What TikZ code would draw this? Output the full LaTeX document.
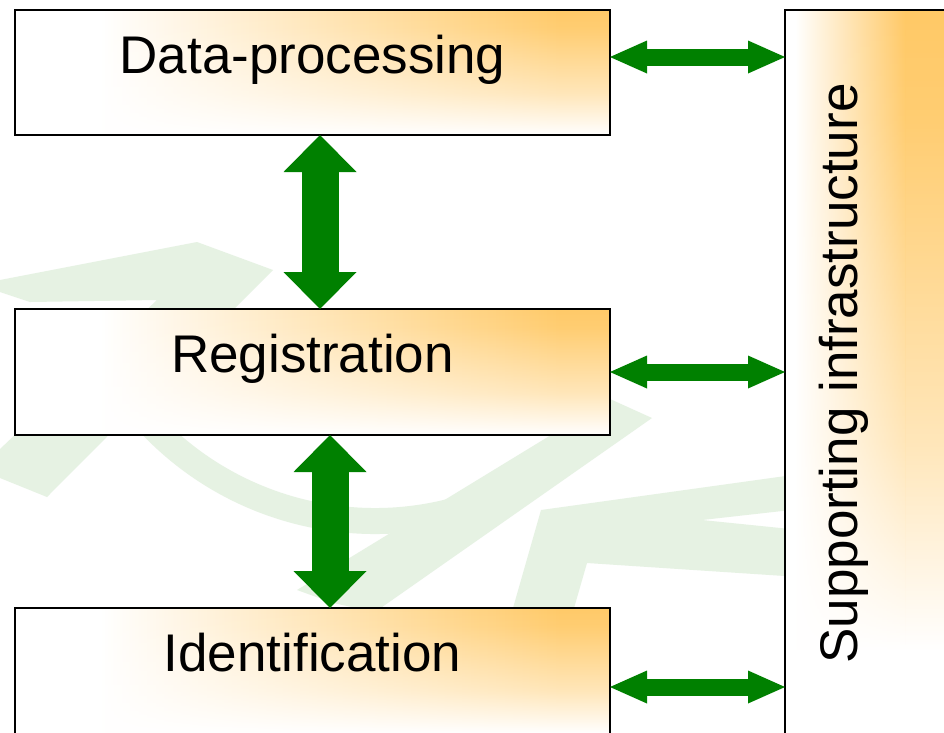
\documentclass[tikz,border=0pt]{standalone}
\usepackage{fontspec}
\setmainfont{Liberation Sans}
\usetikzlibrary{arrows.meta,fadings,calc}
\definecolor{gold}{RGB}{255,201,102}
\definecolor{arrowgreen}{RGB}{0,128,0}
\definecolor{wmark}{RGB}{230,242,227}
\pgfdeclarelayer{background}
\pgfsetlayers{background,main}
\pgfdeclareverticalshading{glowfadeshade}{100bp}{color(0bp)=(black); color(25bp)=(black); color(41bp)=(white!45!black); color(66bp)=(white!92!black); color(75bp)=(white); color(100bp)=(white)}
\pgfdeclarefading{glowfade}{\pgfuseshading{glowfadeshade}}
\newcommand{\glowin}[4]{%
  \fill[white] (#1.north west) rectangle (#1.south east);
  \begin{scope}
    \clip (#1.north west) rectangle (#1.south east);
    \shade[left color=white, right color=gold, path fading=glowfade]
      ($(#1.north west)+(#2,5)$) rectangle ($(#1.north east)+(-#3,-#4)$);
    \fill[gold, path fading=glowfade]
      ($(#1.north east)+(-#3,5)$) rectangle ($(#1.north east)+(5,-#4)$);
  \end{scope}}
\begin{document}
\begin{tikzpicture}[x=1pt,y=1pt,
  box/.style={draw=black, line width=1.8pt, minimum width=595pt, inner sep=0pt, outer sep=0pt,
    text height=63pt, anchor=north west, font=\fontsize{53pt}{64pt}\selectfont},
  sidebox/.style={draw=black, line width=1.4pt, minimum width=175pt, minimum height=740pt,
    inner sep=0pt, outer sep=0pt, anchor=north west},
  sidelabel/.style={rotate=90, anchor=base, inner sep=0pt, font=\fontsize{53pt}{64pt}\selectfont},
  harrow/.style={draw=arrowgreen, line width=17pt,
    arrows={Triangle[width=33pt,length=37pt,line width=0pt]-Triangle[width=33pt,length=37pt,line width=0pt]}},
  varrow/.style={draw=arrowgreen, line width=37pt,
    arrows={Triangle[width=73pt,length=37pt,line width=0pt]-Triangle[width=73pt,length=37pt,line width=0pt]}}]
\useasboundingbox (0,0) rectangle (944,-732);

% boxes
\node[box, text depth=62pt] (dp)  at (15,-10)  {Data-processing};
\node[box, text depth=63pt] (reg) at (15,-309) {Registration};
\node[box, text depth=90pt] (idf) at (15,-608) {Identification};
\node[sidebox] (sup) at (785,-10) {};
\node[sidelabel] (suplab) at (857,-373.5) {Supporting infrastructure};

% connectors
\coordinate (a1) at ($(dp.north east)+(0,-47)$);
\coordinate (a2) at ($(reg.north east)+(0,-63)$);
\coordinate (a3) at ($(idf.north east)+(0,-79)$);
\draw[harrow] (a1) -- (a1 -| sup.west);
\draw[harrow] (a2) -- (a2 -| sup.west);
\draw[harrow] (a3) -- (a3 -| sup.west);
\coordinate (v1) at ($(dp.south west)+(305,0)$);
\coordinate (v2) at ($(reg.south west)+(315,0)$);
\draw[varrow] (v1) -- (v1 |- reg.north);
\draw[varrow] (v2) -- (v2 |- idf.north);

\begin{pgfonlayer}{background}
  \fill[white] (0,0) rectangle (944,-732);
  % faint watermark
  \fill[wmark] (0,-280) -- (197,-242) -- (273,-270) -- (47,-497) -- (0,-478) -- (0,-449)
    -- (157,-300) -- (30,-302) -- (0,-292) -- cycle;
  \fill[wmark] (375,-212) ++(215:322) arc[start angle=215, end angle=290, radius=322]
    -- ($(375,-212)+(290:296)$) arc[start angle=290, end angle=215, radius=296] -- cycle;
  \fill[wmark] (610,-399) -- (652,-418) -- (375,-612) -- (333,-603) -- (297,-590) -- cycle;
  \fill[wmark] (541,-510) -- (800,-474) -- (800,-509) -- (702,-520) -- (800,-530)
    -- (800,-577) -- (587,-563) -- (572,-615) -- (511,-615) -- cycle;
  % box gradients
  \glowin{dp}{85}{50}{125}
  \glowin{reg}{85}{50}{126}
  \glowin{idf}{85}{50}{125}
  \glowin{sup}{10}{55}{640}
\end{pgfonlayer}
\end{tikzpicture}
\end{document}
